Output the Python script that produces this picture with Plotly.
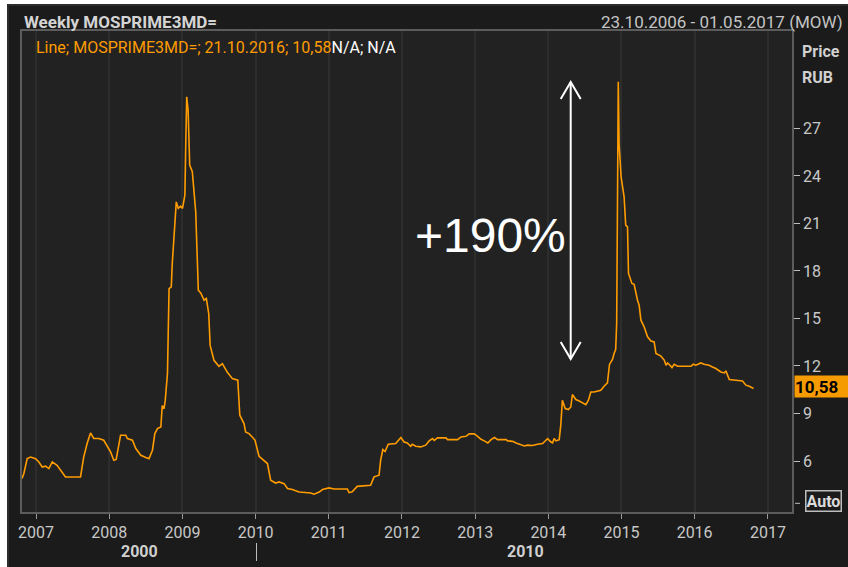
import plotly.graph_objects as go

# ---------------- data ----------------
dates = [
    "2006-10-23", "2006-11-01", "2006-11-18", "2006-12-05", "2006-12-30",
    "2007-01-15", "2007-02-01", "2007-02-18", "2007-03-06", "2007-03-23",
    "2007-04-16", "2007-05-12", "2007-05-28", "2007-08-11", "2007-08-27",
    "2007-09-13", "2007-09-30", "2007-10-16", "2007-11-10", "2007-12-05",
    "2007-12-22", "2008-01-08", "2008-01-24", "2008-02-05", "2008-02-27",
    "2008-03-24", "2008-04-01", "2008-04-26", "2008-05-13", "2008-06-07",
    "2008-07-02", "2008-07-18", "2008-08-04", "2008-08-16", "2008-08-29",
    "2008-09-15", "2008-09-22", "2008-10-01", "2008-10-07", "2008-10-18",
    "2008-10-26", "2008-11-06", "2008-11-11", "2008-11-23", "2008-12-01",
    "2008-12-11", "2008-12-23", "2009-01-01", "2009-01-13", "2009-01-17",
    "2009-01-22", "2009-01-29", "2009-02-06", "2009-02-19", "2009-02-28",
    "2009-03-08", "2009-03-21", "2009-04-02", "2009-04-19", "2009-04-30",
    "2009-05-12", "2009-05-19", "2009-06-07", "2009-07-02", "2009-07-19",
    "2009-08-13", "2009-09-07", "2009-09-27", "2009-10-04", "2009-10-14",
    "2009-11-04", "2009-11-12", "2009-11-29", "2009-12-15", "2009-12-29",
    "2010-01-18", "2010-02-12", "2010-03-01", "2010-03-17", "2010-04-11",
    "2010-04-28", "2010-05-23", "2010-06-09", "2010-07-03", "2010-08-06",
    "2010-10-03", "2010-10-20", "2010-11-14", "2010-12-01", "2011-01-02",
    "2011-01-27", "2011-04-04", "2011-04-12", "2011-04-28", "2011-05-23",
    "2011-07-29", "2011-08-15", "2011-09-09", "2011-09-17", "2011-09-28",
    "2011-10-09", "2011-10-25", "2011-12-01", "2011-12-27", "2012-01-12",
    "2012-01-28", "2012-02-14", "2012-02-22", "2012-03-10", "2012-04-04",
    "2012-04-29", "2012-05-16", "2012-06-02", "2012-06-10", "2012-06-27",
    "2012-08-08", "2012-08-16", "2012-10-05", "2012-10-22", "2012-11-16",
    "2012-12-02", "2012-12-27", "2013-01-13", "2013-01-30", "2013-02-15",
    "2013-03-05", "2013-03-21", "2013-04-07", "2013-04-23", "2013-06-04",
    "2013-06-12", "2013-07-07", "2013-07-24", "2013-08-17", "2013-09-03",
    "2013-09-19", "2013-10-14", "2013-11-08", "2013-12-03", "2013-12-20",
    "2013-12-28", "2014-01-14", "2014-01-22", "2014-01-30", "2014-02-08",
    "2014-02-24", "2014-03-04", "2014-03-12", "2014-03-26", "2014-04-11",
    "2014-04-23", "2014-05-01", "2014-05-18", "2014-06-04", "2014-06-20",
    "2014-07-07", "2014-07-20", "2014-08-01", "2014-08-17", "2014-09-03",
    "2014-09-20", "2014-10-06", "2014-10-23", "2014-11-02", "2014-11-17",
    "2014-11-25", "2014-12-03", "2014-12-08", "2014-12-11", "2014-12-16",
    "2014-12-20", "2014-12-30", "2015-01-14", "2015-01-22", "2015-01-31",
    "2015-02-05", "2015-02-22", "2015-03-05", "2015-03-22", "2015-03-30",
    "2015-04-08", "2015-04-24", "2015-05-11", "2015-05-28", "2015-06-13",
    "2015-06-22", "2015-07-17", "2015-08-03", "2015-08-11", "2015-08-19",
    "2015-08-31", "2015-09-10", "2015-09-21", "2015-10-08", "2015-12-14",
    "2015-12-25", "2016-01-07", "2016-02-01", "2016-02-17", "2016-03-13",
    "2016-03-30", "2016-04-16", "2016-05-11", "2016-05-28", "2016-06-05",
    "2016-06-13", "2016-06-22", "2016-07-25", "2016-08-27", "2016-09-13",
    "2016-09-30", "2016-10-21",
]
values = [
    4.90, 5.20, 6.15, 6.25, 6.15,
    5.94, 5.62, 5.67, 5.52, 5.94,
    5.73, 5.31, 4.99, 4.99, 6.25,
    7.10, 7.77, 7.42, 7.42, 7.31,
    6.93, 6.57, 6.05, 6.10, 7.63,
    7.63, 7.42, 7.31, 6.79, 6.36,
    6.22, 6.15, 6.68, 7.73, 8.05,
    8.15, 9.50, 9.30, 9.84, 11.52,
    16.89, 17.00, 18.47, 21.20, 22.36,
    21.95, 22.09, 21.95, 22.79, 25.84,
    29.00, 28.16, 24.68, 24.26, 22.79,
    21.73, 16.78, 16.61, 16.15, 16.26,
    15.30, 13.30, 12.36, 11.98, 12.15,
    11.60, 11.20, 11.10, 11.10, 8.89,
    8.36, 7.83, 7.73, 7.52, 7.31,
    6.30, 6.05, 5.84, 4.78, 4.61,
    4.68, 4.57, 4.26, 4.20, 4.04,
    3.98, 3.90, 4.04, 4.20, 4.30,
    4.23, 4.23, 4.00, 4.05, 4.40,
    4.47, 5.00, 5.10, 6.05, 6.72,
    6.60, 7.06, 7.10, 7.48, 7.20,
    7.14, 6.93, 7.06, 6.93, 6.89,
    7.00, 7.27, 7.42, 7.30, 7.46,
    7.46, 7.35, 7.35, 7.52, 7.56,
    7.71, 7.71, 7.56, 7.37, 7.27,
    7.14, 7.35, 7.48, 7.35, 7.35,
    7.27, 7.24, 7.14, 7.00, 6.95,
    7.00, 6.98, 7.06, 7.10, 7.31,
    7.41, 7.20, 7.15, 7.42, 7.27,
    7.35, 8.26, 9.84, 9.31, 9.25,
    9.41, 10.20, 9.88, 9.79, 9.66,
    9.56, 9.84, 10.36, 10.36, 10.42,
    10.47, 10.72, 10.93, 12.10, 12.41,
    12.79, 13.04, 14.68, 20.78, 29.94,
    26.05, 23.94, 22.68, 20.89, 20.78,
    17.84, 17.21, 17.16, 16.15, 15.84,
    14.89, 14.47, 13.84, 13.58, 13.52,
    12.79, 12.62, 12.36, 12.05, 12.19,
    12.05, 11.90, 12.11, 11.98, 11.98,
    12.11, 12.05, 12.19, 12.11, 12.05,
    11.94, 11.84, 11.62, 11.56, 11.69,
    11.42, 11.14, 11.10, 11.05, 10.79,
    10.72, 10.58,
]

x_tick_vals = ["2007-01-01", "2008-01-01", "2009-01-01", "2010-01-01", "2011-01-01",
               "2012-01-01", "2013-01-01", "2014-01-01", "2015-01-01", "2016-01-01",
               "2017-01-01"]
x_tick_text = ["2007", "2008", "2009", "2010", "2011", "2012", "2013", "2014",
               "2015", "2016", "2017"]
y_tick_vals = [6, 9, 12, 15, 18, 21, 24, 27]
y_tick_text = ["6", "9", "12", "15", "18", "21", "24", "27"]
decade_labels = ["2000", "2010"]

title_left = "Weekly MOSPRIME3MD="
title_right = "23.10.2006 - 01.05.2017 (MOW)"
legend_main = "Line; MOSPRIME3MD=; 21.10.2016; 10,58"
legend_tail = "N/A; N/A"
last_label = "10,58"
change_label = "+190%"

# ---------------- layout helpers (pixel -> paper) ----------------
W, H = 848, 567
L, R, T, B = 22, 792, 31, 512


def fx(x):
    return (x - L) / (R - L)


def fy(y):
    return (B - y) / (B - T)


NARROW = "Roboto, Liberation Sans, sans-serif"
ORANGE = "#ff9c00"
TXT = "#c8c8c8"

fig = go.Figure()
fig.add_trace(go.Scatter(
    x=dates, y=values, mode="lines",
    line=dict(color=ORANGE, width=1.6),
    hoverinfo="skip", showlegend=False,
))

fig.update_layout(
    width=W, height=H,
    margin=dict(l=L, r=W - R, t=T, b=H - B, pad=0),
    paper_bgcolor="#1b1b1b",
    plot_bgcolor="#222222",
    showlegend=False,
    xaxis=dict(
        range=["2006-10-23", "2017-05-01"],
        tickvals=x_tick_vals, ticktext=x_tick_text,
        showgrid=True, gridcolor="#2d2d2d", gridwidth=2,
        ticks="outside", ticklen=5, tickcolor="#9a9a9a", tickwidth=1,
        tickfont=dict(family=NARROW, size=16, color=TXT),
        showline=True, linecolor="#5c5c5c", linewidth=1.5, mirror=True,
        zeroline=False, fixedrange=True,
    ),
    yaxis=dict(
        range=[2.78, 33.15], side="right",
        tickvals=y_tick_vals, ticktext=y_tick_text,
        showgrid=False,
        ticks="outside", ticklen=6, tickcolor="#bdbdbd", tickwidth=1,
        tickfont=dict(family=NARROW, size=16, color=TXT),
        showline=True, linecolor="#5c5c5c", linewidth=1.5, mirror=True,
        zeroline=False, fixedrange=True,
    ),
)

shapes = []
# white strips at left and top edges of the picture
shapes.append(dict(type="rect", xref="paper", yref="paper",
                   x0=fx(0), x1=fx(7), y0=fy(H), y1=fy(0),
                   fillcolor="white", line=dict(width=0), layer="above"))
shapes.append(dict(type="rect", xref="paper", yref="paper",
                   x0=fx(0), x1=fx(W), y0=fy(4), y1=fy(0),
                   fillcolor="white", line=dict(width=0), layer="above"))
# panel frame
shapes.append(dict(type="rect", xref="paper", yref="paper",
                   x0=fx(8), x1=fx(W + 2), y0=fy(H + 2), y1=fy(5),
                   fillcolor="rgba(0,0,0,0)", line=dict(color="#2c2c2c", width=2),
                   layer="below"))
# double-headed arrow
ax = 570.7
top, bot = 82, 359
shapes.append(dict(type="line", xref="paper", yref="paper",
                   x0=fx(ax), x1=fx(ax), y0=fy(top), y1=fy(bot),
                   line=dict(color="white", width=2)))
for tip, sgn in ((top, 1), (bot, -1)):
    path = "M {a},{b} L {c},{d} L {e},{f}".format(
        a=fx(ax - 10), b=fy(tip + sgn * 17),
        c=fx(ax), d=fy(tip),
        e=fx(ax + 10), f=fy(tip + sgn * 17))
    shapes.append(dict(type="path", xref="paper", yref="paper", path=path,
                       line=dict(color="white", width=2)))
# separator between decades
shapes.append(dict(type="line", xref="paper", yref="paper",
                   x0=fx(256.5), x1=fx(256.5), y0=fy(543), y1=fy(561),
                   line=dict(color="#bdbdbd", width=1)))
# auto tick dash
shapes.append(dict(type="line", xref="paper", yref="paper",
                   x0=fx(795), x1=fx(800), y0=fy(503.3), y1=fy(503.3),
                   line=dict(color="#bdbdbd", width=1)))
fig.update_layout(shapes=shapes)

ann = []
ann.append(dict(xref="paper", yref="paper", x=fx(22), y=fy(22),
                xanchor="left", yanchor="middle", showarrow=False,
                text="<b>" + title_left + "</b>",
                font=dict(family=NARROW, size=17, color="#d4d4d4")))
ann.append(dict(xref="paper", yref="paper", x=fx(845), y=fy(22),
                xanchor="right", yanchor="middle", showarrow=False,
                text=title_right,
                font=dict(family=NARROW, size=17, color="#c4c4c4")))
ann.append(dict(xref="paper", yref="paper", x=fx(34), y=fy(48),
                xanchor="left", yanchor="middle", showarrow=False,
                text='<span style="color:%s">%s</span>%s' % (ORANGE, legend_main, legend_tail),
                font=dict(family=NARROW, size=16, color="#ffffff")))
ann.append(dict(xref="paper", yref="paper", x=fx(800), y=fy(52),
                xanchor="left", yanchor="middle", showarrow=False,
                text="<b>Price</b>",
                font=dict(family=NARROW, size=16, color="#d0d0d0")))
ann.append(dict(xref="paper", yref="paper", x=fx(800), y=fy(77),
                xanchor="left", yanchor="middle", showarrow=False,
                text="<b>RUB</b>",
                font=dict(family=NARROW, size=16, color="#d0d0d0")))
ann.append(dict(xref="paper", yref="paper", x=fx(794), y=fy(386.5),
                xanchor="left", yanchor="middle", showarrow=False,
                text="<b>" + last_label + "</b>", align="left",
                width=54, height=21, bgcolor="#f59b00", borderpad=0,
                font=dict(family=NARROW, size=17, color="#000000")))
ann.append(dict(xref="paper", yref="paper", x=fx(823), y=fy(500.5),
                xanchor="center", yanchor="middle", showarrow=False,
                text="<b>Auto</b>", bordercolor="#bdbdbd", borderwidth=1.5,
                borderpad=0,
                font=dict(family=NARROW, size=16, color="#dcdcdc")))
ann.append(dict(xref="paper", yref="paper", x=fx(490), y=fy(236),
                xanchor="center", yanchor="middle", showarrow=False,
                text=change_label,
                font=dict(family="Liberation Sans, Arial, sans-serif", size=48, color="#ffffff")))
ann.append(dict(xref="paper", yref="paper", x=fx(139.5), y=fy(551),
                xanchor="center", yanchor="middle", showarrow=False,
                text="<b>" + decade_labels[0] + "</b>",
                font=dict(family=NARROW, size=16, color="#d0d0d0")))
ann.append(dict(xref="paper", yref="paper", x=fx(525), y=fy(551),
                xanchor="center", yanchor="middle", showarrow=False,
                text="<b>" + decade_labels[1] + "</b>",
                font=dict(family=NARROW, size=16, color="#d0d0d0")))
fig.update_layout(annotations=ann)

fig.write_html("out.html", config={"displayModeBar": False},
               post_script="document.body.style.margin='0';document.body.style.padding='0';")
